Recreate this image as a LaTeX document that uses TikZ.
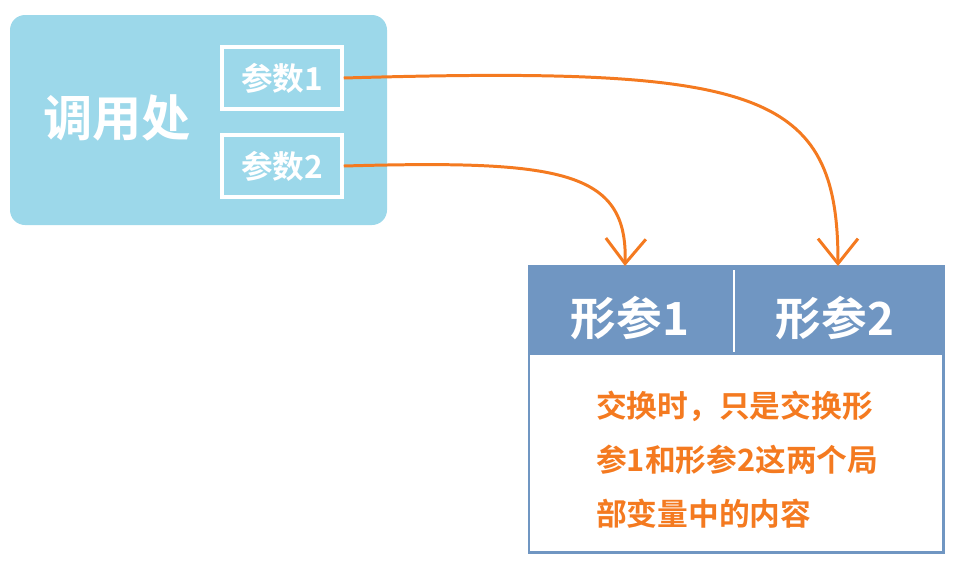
\documentclass[tikz,border=0pt]{standalone}
\usepackage{fontspec}
\setmainfont{Noto Sans CJK SC}[BoldFont={* Bold}]
\usetikzlibrary{arrows.meta}
\definecolor{callblue}{HTML}{9CD8EA}
\definecolor{headblue}{HTML}{7096C2}
\definecolor{argorange}{HTML}{F47A20}
\tikzset{
	argbox/.style={
		draw = white,
		line width = 2pt,
		minimum width = 2.4cm,
		minimum height = 1.24cm,
		text = white,
		font = \bfseries\fontsize{18}{21}\selectfont
	},
	param/.style={
		text = white,
		font = \bfseries\fontsize{26}{30}\selectfont
	},
	pass/.style={
		draw = argorange,
		line width = 1.7pt,
		-{Straight Barb[length=5mm,width=8mm,line width=1.7pt]}
	},
}

\begin{document}
\begin{tikzpicture}[x=0.02cm, y=-0.02cm]
    \useasboundingbox (0,0) rectangle (961,566);
    \fill[callblue, rounded corners=0.3cm] (10,15) rectangle (387,225);
    \node[text=white, font=\bfseries\fontsize{28}{32}\selectfont] (call) at (117,118) {调用处};
    \node[argbox] (a1) at (282,78) {参数1};
    \node[argbox] (a2) at (282,166) {参数2};
    \fill[headblue] (528,265) rectangle (944,355);
    \draw[headblue, line width=1.7pt] (529,266) rectangle (943,552);
    \draw[white, line width=1.7pt] (734,270) -- (734,352);
    \node[param] (p1) at (630,318) {形参1};
    \node[param] (p2) at (835,318) {形参2};
    \coordinate (t1) at (838,266);
    \coordinate (t2) at (625,266);
    \node[text=argorange, font=\bfseries\fontsize{17.5}{30.7}\selectfont, align=left, anchor=north west] (note) at (590,385)
      {交换时，只是交换形\\参1和形参2这两个局\\部变量中的内容};
    \draw[pass] (a1.east) .. controls (760,66) and (838,90) .. (t1);
    \draw[pass] (a2.east) .. controls (560,160) and (628,170) .. (t2);
  \end{tikzpicture}
\end{document}
